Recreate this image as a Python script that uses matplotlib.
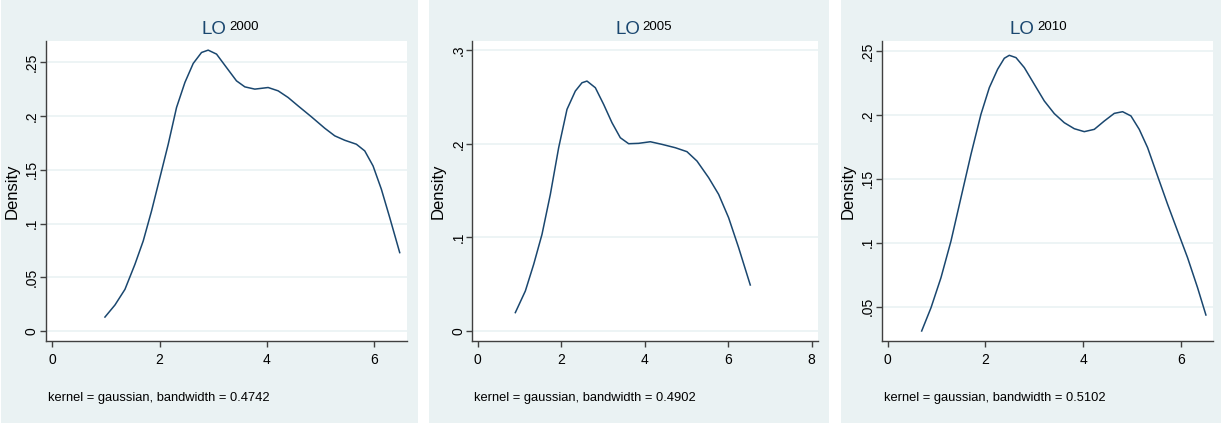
import matplotlib
matplotlib.use("Agg")
import matplotlib.pyplot as plt
from matplotlib.patches import Rectangle

plt.rcParams['font.family'] = ['Liberation Sans', 'DejaVu Sans']

# ---- data ----
years = ['2000', '2005', '2010']
bandwidths = ['0.4742', '0.4902', '0.5102']

x_2000 = [0.982, 1.168, 1.355, 1.541, 1.696, 1.851, 2.007, 2.162, 2.317, 2.473, 2.628,
          2.783, 2.907, 3.063, 3.249, 3.435, 3.591, 3.777, 4.025, 4.212, 4.398, 4.584,
          4.833, 5.081, 5.268, 5.454, 5.671, 5.827, 5.982, 6.137, 6.293, 6.479]
y_2000 = [0.0130, 0.0242, 0.0388, 0.0621, 0.0839, 0.1118, 0.1429, 0.1739, 0.2081, 0.2314,
          0.2491, 0.2593, 0.2615, 0.2578, 0.2453, 0.2329, 0.2273, 0.2252, 0.2267, 0.2236,
          0.2174, 0.2096, 0.1994, 0.1888, 0.1817, 0.1776, 0.1739, 0.1677, 0.1537, 0.1320,
          0.1056, 0.0730]

x_2005 = [0.901, 1.141, 1.341, 1.540, 1.740, 1.939, 2.139, 2.338, 2.498, 2.618, 2.818,
          3.017, 3.217, 3.416, 3.616, 3.856, 4.135, 4.415, 4.735, 5.013, 5.253, 5.533,
          5.772, 6.011, 6.251, 6.530]
y_2005 = [0.0196, 0.0427, 0.0712, 0.1032, 0.1459, 0.1957, 0.2367, 0.2562, 0.2651, 0.2669,
          0.2598, 0.2420, 0.2224, 0.2064, 0.2000, 0.2004, 0.2021, 0.1993, 0.1957, 0.1915,
          0.1815, 0.1637, 0.1459, 0.1210, 0.0890, 0.0491]

x_2010 = [0.695, 0.886, 1.090, 1.295, 1.499, 1.704, 1.908, 2.079, 2.249, 2.386, 2.488,
          2.625, 2.795, 3.000, 3.204, 3.409, 3.613, 3.818, 4.022, 4.227, 4.431, 4.636,
          4.807, 4.977, 5.147, 5.318, 5.522, 5.727, 5.931, 6.136, 6.340, 6.511]
y_2010 = [0.0310, 0.0492, 0.0727, 0.1014, 0.1353, 0.1692, 0.2005, 0.2213, 0.2357, 0.2443,
          0.2466, 0.2448, 0.2370, 0.2239, 0.2109, 0.2010, 0.1939, 0.1892, 0.1869, 0.1887,
          0.1952, 0.2012, 0.2025, 0.1992, 0.1887, 0.1744, 0.1522, 0.1301, 0.1092, 0.0883,
          0.0649, 0.0435]

xticks = [[0, 2, 4, 6], [0, 2, 4, 6, 8], [0, 2, 4, 6]]
yticks = [[0, 0.05, 0.1, 0.15, 0.2, 0.25], [0, 0.1, 0.2, 0.3], [0.05, 0.1, 0.15, 0.2, 0.25]]
ytick_labels = [['0', '.05', '.1', '.15', '.2', '.25'], ['0', '.1', '.2', '.3'],
                ['.05', '.1', '.15', '.2', '.25']]

curves = [(x_2000, y_2000), (x_2005, y_2005), (x_2010, y_2010)]

# ---- layout (pixels) ----
W, H = 1221, 423
BG = '#EAF2F3'
NAVY = '#1A476F'
panels = [(1, 418), (429, 829), (841, 1221)]
plot_boxes = [(45.7, 407, 41, 340.7), (472.3, 818.3, 41, 340.7), (881.7, 1212.7, 41, 340.7)]
xlims = [(-0.123, 6.615), (-0.13, 8.16), (-0.123, 6.65)]
ylims = [(-0.009, 0.270), (-0.0104, 0.3097), (0.0234, 0.2578)]
title_split = [227.5, 641, 1035.5]

fig = plt.figure(figsize=(W / 100, H / 100), dpi=100)
fig.patch.set_facecolor('white')

for x0, x1 in panels:
    fig.add_artist(Rectangle((x0 / W, 0), (x1 - x0) / W, 1, transform=fig.transFigure,
                             facecolor=BG, edgecolor='none', zorder=0))

for i in range(3):
    l, r, t, b = plot_boxes[i]
    ax = fig.add_axes([l / W, 1 - b / H, (r - l) / W, (b - t) / H])
    ax.set_facecolor('white')
    xs, ys = curves[i]
    ax.plot(xs, ys, color=NAVY, linewidth=1.1, zorder=3)
    ax.set_xlim(*xlims[i])
    ax.set_ylim(*ylims[i])
    ax.set_xticks(xticks[i])
    ax.set_xticklabels([str(v) for v in xticks[i]])
    ax.set_yticks(yticks[i])
    ax.set_yticklabels(ytick_labels[i], rotation=90, va='center')
    ax.grid(axis='y', color=BG, linewidth=1.2, zorder=1)
    for s in ['top', 'right']:
        ax.spines[s].set_visible(False)
    for s in ['left', 'bottom']:
        ax.spines[s].set_color('#404040')
        ax.spines[s].set_linewidth(1.0)
    ax.tick_params(axis='both', direction='out', length=4.5, width=1.0, color='#404040',
                   labelsize=10, labelcolor='black')
    ax.tick_params(axis='x', pad=4)
    ax.tick_params(axis='y', pad=0.5)
    ax.set_ylabel('Density', fontsize=12, va='center')
    ax.yaxis.set_label_coords(-34 / (r - l), 0.5)

    # title: "LO" in navy, year in black
    ty = 1 - 20.5 / H
    fig.text((title_split[i] - 1) / W, ty, 'LO', color=NAVY, fontsize=13.5,
             ha='right', va='top')
    fig.text((title_split[i] + 1.5) / W, ty, years[i], color='black', fontsize=9.5,
             ha='left', va='top')

    fig.text((l + 2) / W, 1 - 398 / H,
             'kernel = gaussian, bandwidth = ' + bandwidths[i],
             fontsize=9.3, ha='left', va='center')

fig.savefig('out.png', dpi=100, facecolor=fig.get_facecolor())
